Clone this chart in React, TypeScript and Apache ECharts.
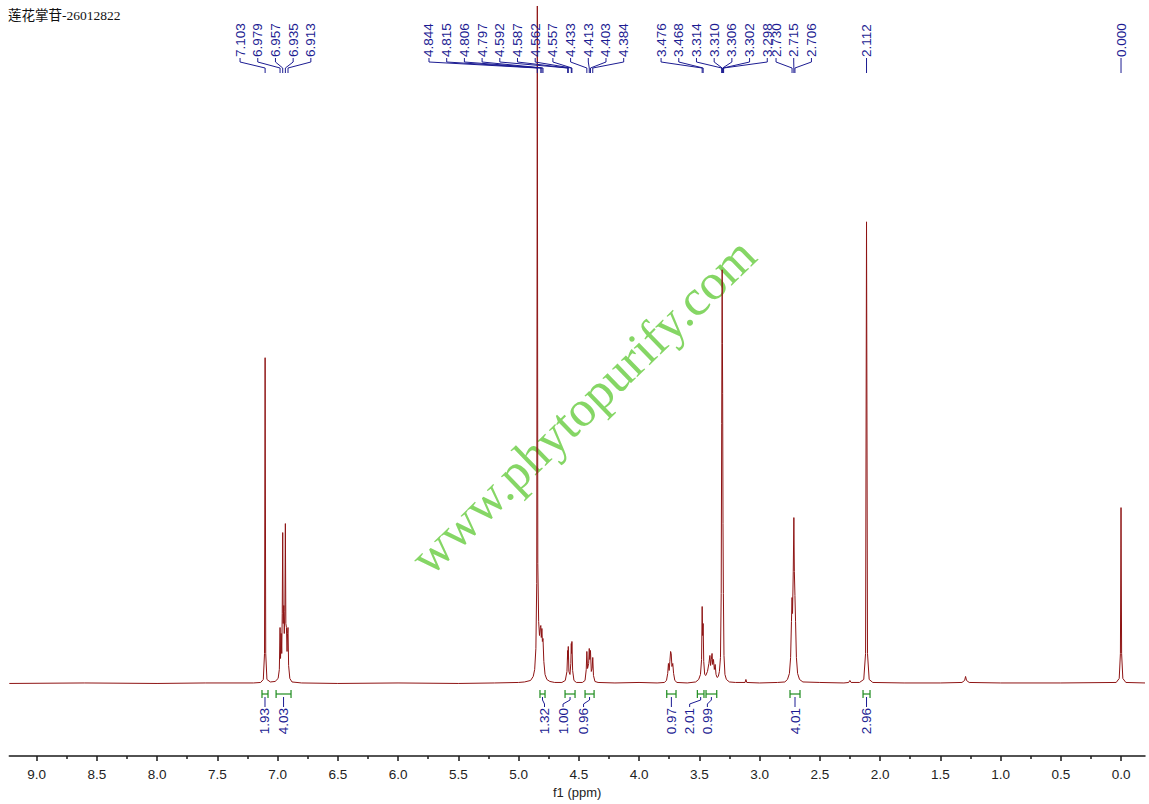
import React, { useEffect, useRef } from "react";
import * as echarts from "echarts";

const TITLE = "莲花掌苷-26012822";
const WATERMARK = "www.phytopurify.com";
const AXIS_NAME = "f1 (ppm)";

const PPM_LEFT = 9.226;
const PPM_RIGHT = -0.199;

const MAJOR_TICKS = [9.0, 8.5, 8.0, 7.5, 7.0, 6.5, 6.0, 5.5, 5.0, 4.5, 4.0, 3.5, 3.0, 2.5, 2.0, 1.5, 1.0, 0.5, 0.0];
const MINOR_TICKS = [8.75, 8.25, 7.75, 7.25, 6.75, 6.25, 5.75, 5.25, 4.75, 4.25, 3.75, 3.25, 2.75, 2.25, 1.75, 1.25, 0.75, 0.25];

// [ppm, intensity (a.u.)]
const SPECTRUM: [number, number][] = [
  [9.226, 0], [8.6, 0.5], [8.0, 0], [7.6, 0.5], [7.2, 0.5],
  [7.14, 1], [7.118, 4], [7.108, 30], [7.103, 326], [7.098, 30], [7.088, 4], [7.06, 1.5],
  [7.02, 2], [6.995, 5], [6.985, 14], [6.979, 56], [6.975, 25], [6.97, 50], [6.965, 30], [6.961, 70], [6.957, 151], [6.953, 60], [6.948, 78], [6.944, 50], [6.939, 72], [6.935, 160], [6.931, 60], [6.926, 56], [6.921, 32], [6.917, 50], [6.913, 56], [6.908, 18], [6.898, 5], [6.88, 1.5],
  [6.8, 0.5], [6.5, 0], [6.0, 0.5], [5.5, 0], [5.2, 0.5], [5.0, 1],
  [4.95, 1.5], [4.9, 3], [4.878, 7], [4.866, 14], [4.856, 35], [4.849, 100], [4.844, 678], [4.84, 120], [4.833, 62], [4.826, 48], [4.819, 56], [4.815, 58], [4.811, 46], [4.806, 55], [4.802, 42], [4.797, 45], [4.79, 22], [4.78, 9], [4.765, 4], [4.74, 2], [4.7, 1],
  [4.64, 1], [4.612, 3], [4.598, 12], [4.592, 33], [4.59, 24], [4.587, 37], [4.582, 12], [4.573, 9], [4.566, 20], [4.562, 40], [4.56, 30], [4.557, 42], [4.551, 13], [4.54, 3], [4.52, 1],
  [4.47, 1], [4.448, 3], [4.438, 14], [4.433, 32], [4.427, 15], [4.418, 20], [4.413, 35], [4.409, 24], [4.403, 33], [4.396, 12], [4.389, 15], [4.384, 26], [4.378, 8], [4.366, 2], [4.34, 1],
  [4.2, 0.5], [4.0, 1], [3.85, 0.5],
  [3.79, 1], [3.772, 3], [3.762, 10], [3.756, 20], [3.75, 13], [3.744, 22], [3.738, 32], [3.733, 30], [3.727, 17], [3.72, 20], [3.713, 10], [3.703, 3], [3.685, 1],
  [3.6, 0.5], [3.53, 1.5], [3.505, 4], [3.49, 9], [3.481, 24], [3.476, 77], [3.472, 48], [3.468, 60], [3.463, 22], [3.455, 9], [3.446, 8],
  [3.432, 12], [3.42, 20], [3.412, 28], [3.406, 18], [3.4, 24], [3.394, 30], [3.389, 19], [3.382, 24], [3.375, 14], [3.368, 19], [3.361, 9], [3.352, 6], [3.342, 7],
  [3.333, 12], [3.324, 26], [3.318, 90], [3.314, 260], [3.312, 340], [3.31, 414], [3.308, 340], [3.306, 290], [3.303, 160], [3.3, 90], [3.295, 28], [3.287, 9], [3.275, 4], [3.25, 1.5],
  [3.2, 1], [3.12, 1], [3.113, 4], [3.106, 1], [3.0, 0.5], [2.85, 1],
  [2.79, 1.5], [2.768, 4], [2.752, 10], [2.742, 26], [2.735, 62], [2.73, 86], [2.726, 70], [2.72, 112], [2.715, 166], [2.711, 112], [2.706, 88], [2.701, 62], [2.694, 26], [2.684, 10], [2.668, 4], [2.64, 1.5],
  [2.5, 1], [2.3, 0.5], [2.26, 1], [2.25, 3], [2.24, 1], [2.17, 1], [2.135, 4], [2.12, 30], [2.112, 462], [2.104, 30], [2.09, 4], [2.06, 1],
  [1.8, 0.5], [1.5, 0.5], [1.32, 1], [1.298, 3], [1.29, 7], [1.282, 3], [1.26, 1], [1.0, 0.5], [0.5, 0.5],
  [0.04, 1], [0.015, 5], [0.005, 30], [0.0, 176], [-0.005, 30], [-0.015, 5], [-0.04, 1], [-0.199, 0.5],
];

// picked peak labels, in groups sharing a label fan
const PEAKS_A = [7.103, 6.979, 6.957, 6.935, 6.913];
const PEAKS_B = [4.844, 4.815, 4.806, 4.797, 4.592, 4.587, 4.562, 4.557, 4.433, 4.413, 4.403, 4.384];
const PEAKS_C = [3.476, 3.468, 3.314, 3.31, 3.306, 3.302, 3.298];
const PEAKS_D = [2.73, 2.715, 2.706];
const PEAKS_E = [2.112];
const PEAKS_F = [0.0];

// integration regions
const INTEGRAL_FROM = [7.129, 7.012, 4.822, 4.614, 4.448, 3.77, 3.516, 3.444, 2.747, 2.141];
const INTEGRAL_TO = [7.079, 6.888, 4.78, 4.531, 4.373, 3.693, 3.461, 3.355, 2.664, 2.083];
const INTEGRAL_VALUES = [1.93, 4.03, 1.32, 1.0, 0.96, 0.97, 2.01, 0.99, 4.01, 2.96];

// ---- layout (not data) ----
const PEAK_GROUPS = [PEAKS_A, PEAKS_B, PEAKS_C, PEAKS_D, PEAKS_E, PEAKS_F];
const GROUP_LABEL_START = [7.311, 5.743, 3.817, 2.863, 2.112, 0.0];
const LABEL_STEP = 17.7;
const INTEGRAL_LABEL_SHIFT = [0, 0, 2, -7, -6, 0, -11, -4, 0, 0];

const BLUE = "#1c1c92";
const GREEN = "#1e8c1e";
const RED = "#8e1414";
const LABEL_FONT = '13.5px "Liberation Sans", Arial, sans-serif';

export default function App() {
  const ref = useRef<HTMLDivElement>(null);

  useEffect(() => {
    const chart = echarts.init(ref.current!, null, { renderer: "svg" });
    const axisCommon = {
      type: "value",
      min: PPM_RIGHT,
      max: PPM_LEFT,
      inverse: true,
      position: "bottom",
      splitLine: { show: false },
    };
    chart.setOption({
      animation: false,
      backgroundColor: "#ffffff",
      grid: { left: 9.3, right: 4, top: 0, bottom: 47.3, containLabel: false },
      xAxis: [
        {
          ...axisCommon,
          name: AXIS_NAME,
          nameLocation: "middle",
          nameGap: 27,
          nameTextStyle: { fontSize: 13, fontFamily: '"Liberation Sans", Arial, sans-serif', color: "#222" },
          axisLine: { show: true, onZero: false, lineStyle: { color: "#1a1a1a", width: 1.5 } },
          axisTick: { show: true, length: 5, customValues: MAJOR_TICKS, lineStyle: { color: "#1a1a1a", width: 1.5 } },
          axisLabel: {
            show: true,
            customValues: MAJOR_TICKS,
            formatter: (v: number) => v.toFixed(1),
            fontSize: 13.5,
            fontFamily: '"Liberation Sans", Arial, sans-serif',
            color: "#222",
            margin: 11,
          },
        },
        {
          ...axisCommon,
          axisLine: { show: false, onZero: false },
          axisTick: { show: true, length: 3, customValues: MINOR_TICKS, lineStyle: { color: "#1a1a1a", width: 1.5 } },
          axisLabel: { show: false },
        },
      ],
      yAxis: { type: "value", min: -72.7, max: 684, show: false, splitLine: { show: false } },
      series: [
        {
          type: "line",
          data: SPECTRUM,
          showSymbol: false,
          symbol: "none",
          clip: true,
          lineStyle: { color: RED, width: 1 },
          z: 3,
        },
      ],
    });

    const px = (p: number) => chart.convertToPixel({ xAxisIndex: 0 }, p) as number;
    const g: any[] = [];

    g.push({
      type: "text",
      x: 8,
      y: 15,
      silent: true,
      style: {
        text: TITLE,
        font: '13.5px "Liberation Serif", "Noto Sans CJK SC", serif',
        fill: "#111",
        align: "left",
        verticalAlign: "middle",
        textAlign: "left",
        textVerticalAlign: "middle",
      },
    });

    g.push({
      type: "text",
      x: 583,
      y: 406,
      rotation: 0.77,
      silent: true,
      z: 1,
      style: {
        text: WATERMARK,
        font: '51px "Liberation Serif", "Times New Roman", serif',
        fill: "rgba(92, 200, 50, 0.75)",
        align: "center",
        verticalAlign: "middle",
        textAlign: "center",
        textVerticalAlign: "middle",
      },
    });

    PEAK_GROUPS.forEach((peaks, gi) => {
      const start = px(GROUP_LABEL_START[gi]);
      peaks.forEach((p, i) => {
        const lx = start + i * LABEL_STEP;
        const pxp = px(p);
        g.push({
          type: "text",
          x: lx,
          y: 57,
          rotation: Math.PI / 2,
          silent: true,
          z: 5,
          style: {
            text: p.toFixed(3),
            font: LABEL_FONT,
            fill: BLUE,
            align: "left",
            verticalAlign: "middle",
            textAlign: "left",
            textVerticalAlign: "middle",
          },
        });
        g.push({
          type: "polyline",
          silent: true,
          z: 5,
          shape: { points: [[lx, 58], [lx, 62], [pxp, 68], [pxp, 73]] },
          style: { stroke: BLUE, lineWidth: 1, fill: null },
        });
      });
    });

    INTEGRAL_VALUES.forEach((v, i) => {
      const x1 = px(INTEGRAL_FROM[i]);
      const x2 = px(INTEGRAL_TO[i]);
      const cx = (x1 + x2) / 2;
      const lx = cx + INTEGRAL_LABEL_SHIFT[i];
      g.push({
        type: "polyline",
        silent: true,
        z: 5,
        shape: { points: [[x1, 690], [x1, 698]] },
        style: { stroke: GREEN, lineWidth: 1.2, fill: null },
      });
      g.push({
        type: "polyline",
        silent: true,
        z: 5,
        shape: { points: [[x2, 690], [x2, 698]] },
        style: { stroke: GREEN, lineWidth: 1.2, fill: null },
      });
      g.push({
        type: "polyline",
        silent: true,
        z: 5,
        shape: { points: [[x1, 694], [x2, 694]] },
        style: { stroke: GREEN, lineWidth: 1.2, fill: null },
      });
      g.push({
        type: "polyline",
        silent: true,
        z: 5,
        shape: { points: [[cx, 697], [cx, 700], [lx, 704], [lx, 707]] },
        style: { stroke: BLUE, lineWidth: 1, fill: null },
      });
      g.push({
        type: "text",
        x: lx,
        y: 708,
        rotation: Math.PI / 2,
        silent: true,
        z: 5,
        style: {
          text: v.toFixed(2),
          font: LABEL_FONT,
          fill: BLUE,
          align: "right",
          verticalAlign: "middle",
          textAlign: "right",
          textVerticalAlign: "middle",
        },
      });
    });

    chart.setOption({ graphic: g });

    return () => chart.dispose();
  }, []);

  return (
    <div
      ref={ref}
      style={{ position: "fixed", left: 0, top: 0, width: 1149, height: 804, background: "#fff" }}
    />
  );
}
